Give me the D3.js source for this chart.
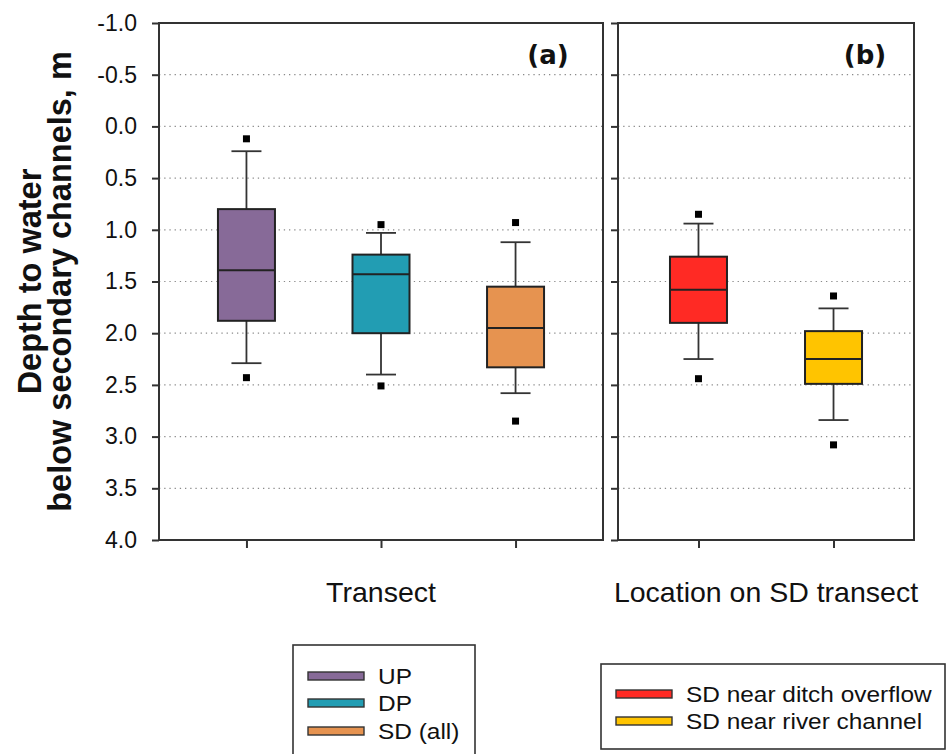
<!DOCTYPE html>
<html>
<head>
<meta charset="utf-8">
<script src="https://cdn.jsdelivr.net/npm/d3@7/dist/d3.min.js"></script>
<style>
  html, body { margin: 0; padding: 0; background: #fff; }
  svg { display: block; font-family: "Liberation Sans", Arial, sans-serif; }
</style>
</head>
<body>
<svg id="chart" width="947" height="754"></svg>
<script>
// ---------- data ----------
const categoriesA = ["UP", "DP", "SD (all)"];
const categoriesB = ["SD near ditch overflow", "SD near river channel"];
const coloursA = ["#876a98", "#229db3", "#e69350"];
const coloursB = ["#ff2a24", "#ffc400"];

// [lower whisker, Q1, median, Q3, upper whisker] (depth, m)
const statsA = [
  [0.24, 0.80, 1.39, 1.88, 2.29],
  [1.03, 1.24, 1.43, 2.00, 2.40],
  [1.12, 1.55, 1.95, 2.33, 2.58]
];
const outliersA = [
  [0.12, 2.43],
  [0.95, 2.51],
  [0.93, 2.85]
];
const statsB = [
  [0.94, 1.26, 1.58, 1.90, 2.25],
  [1.76, 1.98, 2.25, 2.49, 2.84]
];
const outliersB = [
  [0.85, 2.44],
  [1.64, 3.08]
];
const yTicks = [-1.0, -0.5, 0.0, 0.5, 1.0, 1.5, 2.0, 2.5, 3.0, 3.5, 4.0];
const yTitle = ["Depth to water", "below secondary channels, m"];
const xTitleA = "Transect";
const xTitleB = "Location on SD transect";

// ---------- layout ----------
const svg = d3.select("#chart");
const plotTop = 23, plotBottom = 540;
const y = d3.scaleLinear().domain([-1, 4]).range([plotTop, plotBottom]);
const fmt = v => d3.format(".1f")(v).replace("\u2212", "-");

const panels = [
  { x0: 159, x1: 603, cats: categoriesA, cols: coloursA, stats: statsA, outs: outliersA,
    pad: 0.65, label: "(a)", labelX: 548, title: xTitleA, showLabels: true },
  { x0: 618, x1: 914, cats: categoriesB, cols: coloursB, stats: statsB, outs: outliersB,
    pad: 0.596, label: "(b)", labelX: 865, title: xTitleB, showLabels: false }
];

const boxW = 57, capW = 30, sq = 7;

panels.forEach(p => {
  const x = d3.scalePoint().domain(p.cats).range([p.x0, p.x1]).padding(p.pad);
  const g = svg.append("g");

  // grid lines (dotted)
  g.append("g").selectAll("line")
    .data(yTicks.filter(t => t > -1 && t < 4))
    .join("line")
    .attr("x1", p.x0).attr("x2", p.x1)
    .attr("y1", d => y(d)).attr("y2", d => y(d))
    .attr("stroke", "#8a8a8a").attr("stroke-width", 1.2)
    .attr("stroke-dasharray", "1.3,3.9");

  // y axis ticks
  const ya = d3.axisLeft(y).tickValues(yTicks).tickSize(7).tickPadding(15)
    .tickFormat(p.showLabels ? fmt : "");
  const yg = g.append("g").attr("transform", `translate(${p.x0},0)`).call(ya);
  yg.select(".domain").remove();
  yg.selectAll(".tick line").attr("stroke", "#333").attr("stroke-width", 2);
  yg.selectAll(".tick text").attr("font-size", 23).attr("fill", "#111")
    .attr("font-family", "Liberation Sans, Arial, sans-serif");

  // x axis ticks
  const xa = d3.axisBottom(x).tickSize(8).tickFormat("");
  const xg = g.append("g").attr("transform", `translate(0,${plotBottom})`).call(xa);
  xg.select(".domain").remove();
  xg.selectAll(".tick line").attr("stroke", "#333").attr("stroke-width", 2);

  // boxes
  p.cats.forEach((c, i) => {
    const s = p.stats[i];
    const cx = x(c);
    const bg = g.append("g");
    bg.append("line").attr("x1", cx).attr("x2", cx).attr("y1", y(s[0])).attr("y2", y(s[1]))
      .attr("stroke", "#333").attr("stroke-width", 1.8);
    bg.append("line").attr("x1", cx).attr("x2", cx).attr("y1", y(s[3])).attr("y2", y(s[4]))
      .attr("stroke", "#333").attr("stroke-width", 1.8);
    [s[0], s[4]].forEach(v => {
      bg.append("line").attr("x1", cx - capW / 2).attr("x2", cx + capW / 2)
        .attr("y1", y(v)).attr("y2", y(v))
        .attr("stroke", "#333").attr("stroke-width", 1.8);
    });
    bg.append("rect").attr("x", cx - boxW / 2).attr("width", boxW)
      .attr("y", y(s[1])).attr("height", y(s[3]) - y(s[1]))
      .attr("fill", p.cols[i]).attr("stroke", "#222").attr("stroke-width", 2);
    bg.append("line").attr("x1", cx - boxW / 2).attr("x2", cx + boxW / 2)
      .attr("y1", y(s[2])).attr("y2", y(s[2]))
      .attr("stroke", "#222").attr("stroke-width", 2);
    bg.selectAll("rect.out").data(p.outs[i]).join("rect").attr("class", "out")
      .attr("x", cx - sq / 2).attr("y", d => y(d) - sq / 2)
      .attr("width", sq).attr("height", sq).attr("fill", "#000");
  });

  // frame
  g.append("rect").attr("x", p.x0).attr("y", plotTop)
    .attr("width", p.x1 - p.x0).attr("height", plotBottom - plotTop)
    .attr("fill", "none").attr("stroke", "#333").attr("stroke-width", 2);

  // panel label
  g.append("text").attr("x", p.labelX).attr("y", 64)
    .attr("text-anchor", "middle")
    .attr("font-family", "DejaVu Sans, sans-serif").attr("font-weight", "bold")
    .attr("font-size", 26).attr("fill", "#111").text(p.label);

  // x title
  g.append("text").attr("x", (p.x0 + p.x1) / 2).attr("y", 602)
    .attr("text-anchor", "middle").attr("font-size", 28.5).attr("fill", "#111")
    .text(p.title);
});

// y title
const yt = svg.append("text")
  .attr("transform", `translate(0,${(plotTop + plotBottom) / 2}) rotate(-90)`)
  .attr("text-anchor", "middle").attr("font-weight", "bold")
  .attr("font-size", 32.5).attr("fill", "#111");
yt.append("tspan").attr("x", 0).attr("y", 41).text(yTitle[0]);
yt.append("tspan").attr("x", 0).attr("y", 71).text(yTitle[1]);

// legends
function legend(x0, y0, w, h, cats, cols, swX, txtX, rowY) {
  const lg = svg.append("g");
  lg.append("rect").attr("x", x0).attr("y", y0).attr("width", w).attr("height", h)
    .attr("fill", "#fff").attr("stroke", "#333").attr("stroke-width", 1.6);
  cats.forEach((c, i) => {
    const cy = rowY[i];
    lg.append("rect").attr("x", swX).attr("y", cy - 4).attr("width", 56).attr("height", 8)
      .attr("fill", cols[i]).attr("stroke", "#333").attr("stroke-width", 1.4);
    lg.append("text").attr("transform", `translate(${txtX},${cy}) scale(1.11,1)`)
      .attr("dy", "0.36em")
      .attr("font-size", 22).attr("fill", "#111").text(c);
  });
}
legend(293, 645, 182, 120, categoriesA, coloursA, 308, 378, [676, 703, 731]);
legend(601, 664, 344, 85, categoriesB, coloursB, 616, 686, [694, 721]);
</script>
</body>
</html>
